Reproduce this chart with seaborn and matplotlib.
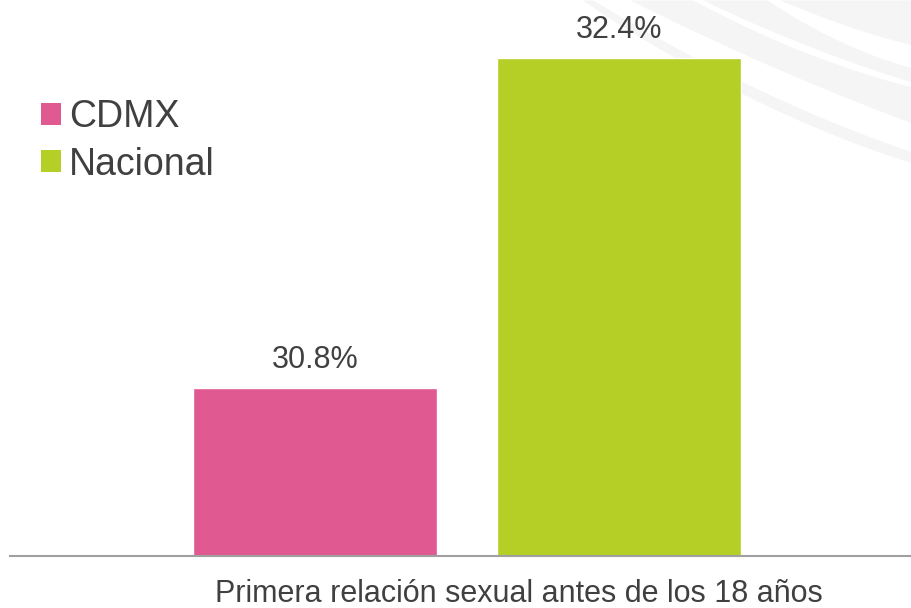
import matplotlib
matplotlib.use("Agg")
import matplotlib.pyplot as plt
from matplotlib.patches import Patch
import seaborn as sns
import pandas as pd
import numpy as np

# data
categories = ["CDMX", "Nacional"]
values = [30.8, 32.4]
labels = ["30.8%", "32.4%"]
colors = ["#E05A91", "#B5CF26"]
xlabel_text = "Primera relación sexual antes de los 18 años"

sns.set_style("white")
plt.rcParams['font.family'] = ['Liberation Sans', 'DejaVu Sans']
TEXT = "#404040"

W, H = 912, 608
fig = plt.figure(figsize=(W / 100, H / 100), dpi=100)

# decorative background arcs (top-right), in pixel space
bg = fig.add_axes([0, 0, 1, 1])
bg.set_xlim(0, W)
bg.set_ylim(H, 0)
bg.axis("off")


def curve(x_top, y_mid, y_right):
    pts_x = [x_top, 860, 912]
    pts_y = [0, y_mid, y_right]
    return np.poly1d(np.polyfit(pts_x, pts_y, 2))


bands = [
    (None, curve(780, 30, 45), 780),
    (curve(767, 50, 68), curve(703, 65, 82), 703),
    (curve(693, 72, 87), curve(630, 103, 123), 630),
    (curve(593, 133, 152), curve(582, 145, 163), 582),
]
for up, low, x0 in bands:
    xs = np.linspace(x0, W, 200)
    y_low = np.clip(low(xs), 0, None)
    y_up = np.zeros_like(xs) if up is None else np.clip(up(xs), 0, None)
    bg.fill_between(xs, y_up, y_low, color="#f5f5f5", linewidth=0)

# main axes
base_px = 556
ax = fig.add_axes([10 / W, (H - base_px) / H, (W - 10) / W, base_px / H])
ax.patch.set_alpha(0)
df = pd.DataFrame({"cat": categories, "val": values})
sns.barplot(data=df, x="cat", y="val", hue="cat", palette=colors,
            width=0.8, saturation=1, dodge=False, legend=False, ax=ax)

px_per_unit = 206.25
y0 = 29.985
ax.set_ylim(y0, y0 + base_px / px_per_unit)
ax.set_xlim((10 - 315) / 304, (912 - 315) / 304)

for cont, lab in zip(ax.containers, labels):
    ax.bar_label(cont, labels=[lab], padding=9, fontsize=22, color=TEXT)

for s in ["top", "right", "left"]:
    ax.spines[s].set_visible(False)
ax.spines["bottom"].set_color("#a0a0a0")
ax.spines["bottom"].set_linewidth(1.5)
ax.set_xticks([])
ax.set_yticks([])
ax.set_xlabel("")
ax.set_ylabel("")

handles = [Patch(facecolor=c, edgecolor="none") for c in colors]
leg = fig.legend(handles, categories, loc="upper left",
                 bbox_to_anchor=(41 / W, 1 - 99 / H), frameon=False,
                 fontsize=27, handlelength=0.53, handleheight=0.53,
                 handletextpad=0.22, labelspacing=0.31, borderpad=0, borderaxespad=0)
for t in leg.get_texts():
    t.set_color(TEXT)

fig.text(519 / W, 1 - 602 / H, xlabel_text, ha="center", va="baseline",
         fontsize=22, color=TEXT)

fig.savefig("out.png", dpi=100)
